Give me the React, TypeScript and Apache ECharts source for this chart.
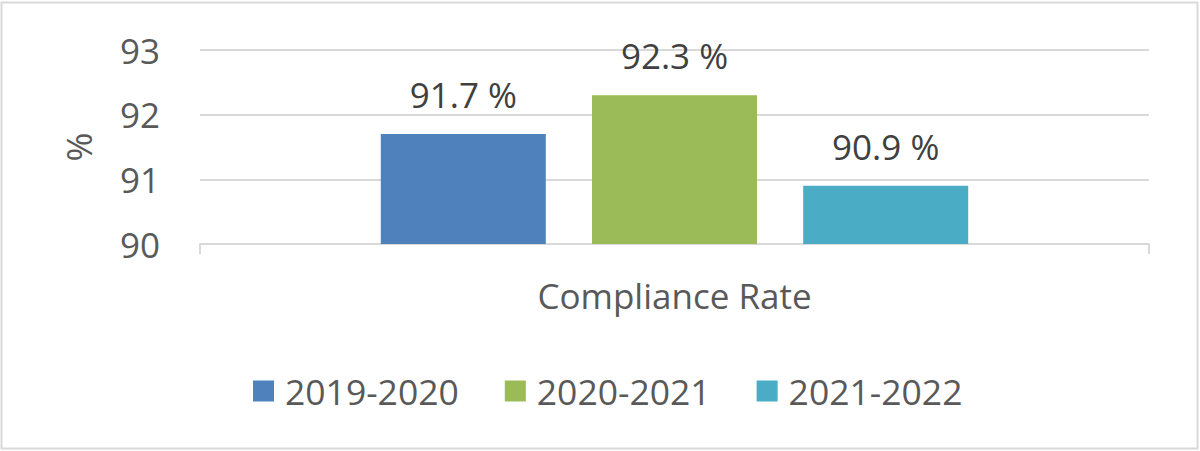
import React, { useEffect, useRef } from "react";
import * as echarts from "echarts";

const categories = ["Compliance Rate"];
const seriesNames = ["2019-2020", "2020-2021", "2021-2022"];
const seriesValues = [[91.7], [92.3], [90.9]];
const seriesColors = ["#4f81bd", "#9bbb59", "#4bacc6"];
const yTicks = { min: 90, max: 93, interval: 1 };

const FONT = "'Open Sans', sans-serif";

export default function App() {
  const ref = useRef<HTMLDivElement>(null);
  useEffect(() => {
    document.body.style.margin = "0";
    const chart = echarts.init(ref.current!, null, { renderer: "svg" });
    chart.setOption({
      animation: false,
      backgroundColor: "#ffffff",
      textStyle: { fontFamily: FONT },
      graphic: [
        {
          type: "rect",
          shape: { x: 1.5, y: 2.5, width: 1196, height: 446 },
          style: { fill: "none", stroke: "#d9d9d9", lineWidth: 2 },
          silent: true,
        },
      ],
      grid: { left: 200, right: 51, top: 50, bottom: 207 },
      legend: {
        left: 253,
        top: 373,
        padding: 0,
        itemWidth: 21,
        itemHeight: 21,
        itemGap: 46,
        icon: "rect",
        data: seriesNames,
        textStyle: {
          fontFamily: FONT,
          fontSize: 35.5,
          color: "#595959",
          padding: [0, 0, 0, 6],
        },
      },
      xAxis: {
        type: "category",
        data: categories,
        axisLine: { show: true, lineStyle: { color: "#d9d9d9", width: 2 } },
        axisTick: { show: true, length: 10, lineStyle: { color: "#d9d9d9", width: 2 } },
        axisLabel: { fontFamily: FONT, fontSize: 35, color: "#595959", margin: 34 },
      },
      yAxis: {
        type: "value",
        min: yTicks.min,
        max: yTicks.max,
        interval: yTicks.interval,
        name: "%",
        nameLocation: "middle",
        nameGap: 104,
        nameRotate: 90,
        nameTextStyle: { fontFamily: FONT, fontSize: 35, color: "#595959" },
        axisLine: { show: false },
        axisTick: { show: false },
        splitLine: { lineStyle: { color: "#d9d9d9", width: 2 } },
        axisLabel: { fontFamily: FONT, fontSize: 35, color: "#595959", margin: 40 },
      },
      series: seriesNames.map((name, i) => ({
        name,
        type: "bar",
        data: seriesValues[i],
        barWidth: 165,
        barGap: "28%",
        itemStyle: { color: seriesColors[i] },
        label: {
          show: true,
          position: "top",
          distance: 22,
          formatter: "{c} %",
          fontFamily: FONT,
          fontSize: 35,
          color: "#404040",
        },
      })),
    });
    return () => chart.dispose();
  }, []);
  return <div ref={ref} style={{ width: 1200, height: 451 }} />;
}
